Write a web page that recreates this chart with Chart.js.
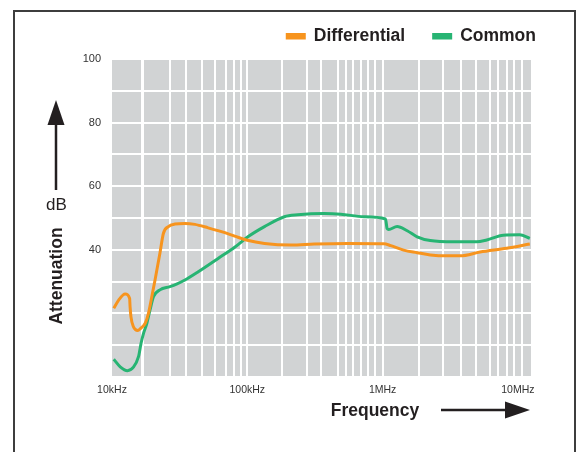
<!DOCTYPE html>
<html>
<head>
<meta charset="utf-8">
<script src="https://cdn.jsdelivr.net/npm/chart.js@4.4.1/dist/chart.umd.min.js"></script>
<style>
	html, body { margin: 0; padding: 0; background: #fff; }
	#wrap { position: relative; width: 577px; height: 452px; overflow: hidden; }
	#frame { position: absolute; left: 13px; top: 10px; width: 563px; height: 480px; border: 2px solid #3d3d3d; box-sizing: border-box; }
	#c { position: absolute; left: 0; top: 0; }
</style>
</head>
<body>
<div id="wrap">
	<div id="frame"></div>
	<canvas id="c" width="577" height="452"></canvas>
</div>
<script>
// Differential attenuation (Hz, dB)
var diffFreq = [10300, 11200, 12500, 13500, 13600, 13800, 14400, 15500, 16300, 17600, 18600, 19700, 20800, 22600, 24000, 26100, 29200, 34600, 41000, 51400, 64400, 80700, 100000, 134000, 211000, 313000, 550000, 1020000, 1150000, 1430000, 1800000, 2250000, 2990000, 3750000, 5260000, 8260000, 12250000];
var diffDb = [21.6, 24.2, 26.1, 24.7, 22.1, 19.0, 15.8, 14.6, 15.3, 16.9, 20.0, 25.3, 30.5, 38.9, 45.2, 47.3, 48.1, 48.3, 48.0, 46.9, 45.7, 44.3, 43.0, 42.0, 41.5, 41.8, 42.0, 41.9, 41.3, 39.9, 39.1, 38.4, 38.1, 38.1, 39.3, 40.5, 41.8];

// Common attenuation (Hz, dB)
var commonFreq = [10300, 11500, 13000, 14400, 15700, 16400, 17100, 18100, 19100, 20300, 22600, 26800, 30000, 34600, 43400, 60900, 80700, 101000, 134000, 188000, 236000, 370000, 491000, 729000, 1050000, 1080000, 1110000, 1280000, 1520000, 1800000, 2250000, 3350000, 4970000, 5890000, 7800000, 10300000, 12250000];
var commonDb = [5.6, 3.2, 2.0, 3.1, 6.4, 10.6, 13.7, 16.9, 21.1, 25.3, 27.4, 28.4, 29.2, 30.5, 33.1, 37.3, 40.8, 44.1, 47.3, 50.4, 51.0, 51.4, 51.2, 50.4, 49.7, 46.7, 46.4, 47.3, 46.0, 44.1, 42.9, 42.5, 42.5, 43.1, 44.6, 44.7, 43.6];

// grid lines as printed on the chart, and the labelled decades
var gridFreq = [16900, 26700, 35000, 46600, 58200, 70100, 80100, 90300, 100000, 181000, 276000, 350000, 467000, 535000, 602000, 689000, 776000, 873000, 1000000, 1870000, 2810000, 3810000, 4910000, 6220000, 7130000, 8300000, 9350000, 10700000];
var labelFreq = [10000, 100000, 1000000, 10000000];
var freqLabels = ['10kHz', '100kHz', '1MHz', '10MHz'];
var dbLabels = [40, 60, 80, 100];

var seriesNames = ['Differential', 'Common'];
var seriesColors = ['#f7941e', '#27b473'];

function pairs(xs, ys) {
	return xs.map(function (x, i) { return {x: x, y: ys[i]}; });
}

Chart.defaults.font.family = '"Liberation Sans", Arial, sans-serif';

var plotBg = {
	id: 'plotBg',
	beforeDraw(chart) {
		var a = chart.chartArea, ctx = chart.ctx;
		ctx.save();
		ctx.fillStyle = '#d1d3d4';
		ctx.fillRect(a.left, a.top, a.right - a.left, a.bottom - a.top);
		ctx.restore();
	}
};

var decor = {
	id: 'decor',
	afterDraw(chart) {
		var ctx = chart.ctx;
		ctx.save();
		ctx.fillStyle = '#231f20';
		ctx.strokeStyle = '#231f20';

		// legend, right aligned
		ctx.font = 'bold 17.5px "Liberation Sans", Arial, sans-serif';
		ctx.textBaseline = 'middle';
		ctx.textAlign = 'left';
		var ds = chart.data.datasets;
		var total = 0;
		ds.forEach(function (d, i) {
			total += 28 + ctx.measureText(d.label).width + (i > 0 ? 27 : 0);
		});
		var x = 536 - total;
		ds.forEach(function (d) {
			ctx.fillStyle = d.borderColor;
			ctx.fillRect(x, 33, 20, 6.5);
			ctx.fillStyle = '#231f20';
			ctx.fillText(d.label, x + 28, 36.5);
			x += 28 + ctx.measureText(d.label).width + 27;
		});

		// y title
		ctx.save();
		ctx.translate(57, 276);
		ctx.rotate(-Math.PI / 2);
		ctx.textAlign = 'center';
		ctx.fillText('Attenuation', 0, 0);
		ctx.restore();

		ctx.font = '17px "Liberation Sans", Arial, sans-serif';
		ctx.textAlign = 'center';
		ctx.fillText('dB', 56.5, 205);

		// up arrow
		ctx.lineWidth = 2.5;
		ctx.beginPath();
		ctx.moveTo(56, 190);
		ctx.lineTo(56, 120);
		ctx.stroke();
		ctx.beginPath();
		ctx.moveTo(56, 100);
		ctx.lineTo(64.5, 125);
		ctx.lineTo(47.5, 125);
		ctx.closePath();
		ctx.fill();

		// x title
		ctx.font = 'bold 17.5px "Liberation Sans", Arial, sans-serif';
		ctx.fillText('Frequency', 375, 411);

		// right arrow
		ctx.beginPath();
		ctx.moveTo(441, 410);
		ctx.lineTo(510, 410);
		ctx.stroke();
		ctx.beginPath();
		ctx.moveTo(530, 410);
		ctx.lineTo(505, 401.5);
		ctx.lineTo(505, 418.5);
		ctx.closePath();
		ctx.fill();
		ctx.restore();
	}
};

function isGrid(v) {
	return gridFreq.some(function (g) { return Math.abs(g - v) < 1; });
}

new Chart(document.getElementById('c'), {
	type: 'line',
	data: {
		datasets: [
			{label: seriesNames[0], data: pairs(diffFreq, diffDb), borderColor: seriesColors[0], backgroundColor: seriesColors[0]},
			{label: seriesNames[1], data: pairs(commonFreq, commonDb), borderColor: seriesColors[1], backgroundColor: seriesColors[1]}
		]
	},
	options: {
		responsive: false,
		animation: false,
		layout: {padding: {left: 0, right: 46, top: 59, bottom: 0}},
		elements: {
			line: {borderWidth: 3, cubicInterpolationMode: 'monotone', fill: false},
			point: {radius: 0}
		},
		plugins: {
			legend: {display: false},
			tooltip: {enabled: false}
		},
		scales: {
			x: {
				type: 'logarithmic',
				min: 10000,
				max: 12500000,
				afterBuildTicks(scale) {
					var vals = gridFreq.concat(labelFreq.filter(function (v) { return !isGrid(v); }));
					vals.sort(function (a, b) { return a - b; });
					scale.ticks = vals.map(function (v) { return {value: v}; });
				},
				afterFit(scale) { scale.height = 75; },
				border: {display: false},
				grid: {
					drawTicks: false,
					color: function (c) { return c.tick && isGrid(c.tick.value) ? '#ffffff' : 'rgba(0,0,0,0)'; },
					lineWidth: function (c) { return c.tick && Math.abs(c.tick.value - gridFreq[0]) < 1 ? 3 : 2; }
				},
				ticks: {
					autoSkip: false,
					maxRotation: 0,
					minRotation: 0,
					padding: 7,
					color: '#333',
					font: {size: 10.5},
					callback: function (v) {
						for (var i = 0; i < labelFreq.length; i++) {
							if (Math.abs(labelFreq[i] - v) < 1) return freqLabels[i];
						}
						return '';
					}
				}
			},
			y: {
				min: 0,
				max: 100,
				afterFit(scale) { scale.width = 112; },
				border: {display: false},
				grid: {drawTicks: false, color: '#ffffff', lineWidth: 2},
				ticks: {
					stepSize: 10,
					padding: 11,
					color: '#333',
					font: {size: 11},
					callback: function (v) { return dbLabels.indexOf(v) >= 0 ? v : ''; }
				}
			}
		}
	},
	plugins: [plotBg, decor]
});
</script>
</body>
</html>
